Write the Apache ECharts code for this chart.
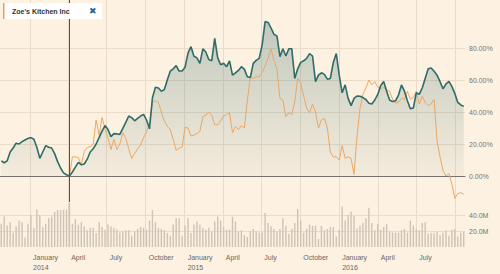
<!DOCTYPE html>
<html><head><meta charset="utf-8">
<script src="https://cdn.jsdelivr.net/npm/echarts@6/dist/echarts.min.js"></script>
<style>html,body{margin:0;padding:0;background:#fdf1e2;}#c{width:500px;height:274px;}</style>
</head><body><div id="c"></div>
<script>
// weekly observations, first one on this date
const startDate = '2013-10-25';
// teal series (% change), one value per week
const teal = [
9.5, 8.3, 9.5, 15, 17.5, 20.5, 20, 21.5, 22.5, 23.5,
24, 23, 18, 11, 15, 19, 18, 17.5, 14, 9,
5, 2, 0.8, 0, 2.5, 5.5, 8.5, 7, 7.5, 10.5,
15, 17, 20, 24, 28, 31.5, 29, 24.6, 26.5, 26.3,
26, 29.8, 33.5, 37.5, 36.5, 34.5, 36, 37.5, 38.5, 35,
29.5, 49, 55.5, 55, 53, 54, 60, 65.5, 67, 69,
65.6, 65.6, 68, 77, 80.8, 74.8, 73.8, 70.4, 79.5, 77.5,
72.8, 72.1, 86, 74, 69.5, 70.5, 68.3, 72, 63, 64.5,
66, 68.3, 66.8, 62, 61.5, 70.4, 72.3, 73.5, 82, 96.5,
96, 92.5, 88.5, 87.5, 74.6, 79.5, 75, 79.5, 79.5, 61,
67, 71, 72, 73.5, 76.5, 75, 59, 63, 64.5, 63.5,
60.5, 61, 71, 76.5, 63, 52, 57, 48.5, 44, 48.5,
50, 49.8, 49, 47.8, 45.5, 45, 47.5, 51, 56.5, 59,
53, 47.5, 46.5, 47, 50.6, 56.9, 53, 47, 42, 42.5,
52, 51, 55, 61, 67, 67.5, 65.5, 63, 59, 54.5,
57.5, 59.2, 56, 51.5, 46, 44.4, 43.5
];
// Zoe's Kitchen Inc (% change), starts at week index 23
const orangeStartIndex = 23;
const orange = [
0, 12, 12, 11.5, 7, 15.5, 17.8, 18.3, 19.8, 35,
25.5, 36.5, 29.5, 24, 16.5, 23, 16.5, 20, 27, 23.5,
17, 11, 14, 17, 19.5, 24, 27.5, 33, 46, 47,
46, 40, 34.5, 31, 29, 23, 16, 17.5, 18, 30.5,
30, 25, 25.5, 26.5, 28, 37, 38, 40, 38, 32,
32, 34.5, 37.5, 38.5, 39.5, 27, 31, 29, 31.5, 30,
47, 61.5, 61, 62, 62, 64.5, 69, 73.5, 79.5, 72,
67, 48.5, 47.5, 37, 39.5, 38.5, 46.4, 61, 58, 50,
42.5, 39.5, 45, 40, 30, 35, 36, 30, 15, 12,
12, 10, 19, 11, 12, 11, 1, 25, 42, 51,
55, 60, 57, 59, 55.5, 54.5, 55.5, 53.5, 53, 48,
45.5, 46, 48.5, 48, 53, 48, 49, 53, 45, 50,
46, 44, 45, 48, 22, 12, 3.5, 0, 1.5, -5,
-14, -11, -10.5, -11.3
];
// weekly volume, millions
const volume = [
29, 38, 27, 31, 18, 26, 33, 31, 12, 29,
40, 24, 47, 40, 25, 29, 36, 38, 44, 46,
46, 46.5, 46.5, 55, 29, 35, 28, 31, 26, 21,
24, 24, 17.5, 31, 25, 21.6, 28, 26, 24, 22,
18, 19.5, 21, 21, 14, 19.5, 22.5, 25, 24, 21.6,
33, 46, 31, 24, 22.5, 21, 17.5, 14, 28, 36,
36, 14, 26.5, 36, 17.5, 28, 32, 28, 24, 21.6,
24, 19.5, 32, 38, 33, 25, 21.6, 22, 38, 32,
19.5, 21, 15, 12.5, 19.5, 22.5, 19.5, 18, 18, 42.5,
30, 26, 22.5, 19.5, 22.5, 36, 26.5, 16.5, 22.5, 30,
47.5, 33, 18, 22.5, 28, 26.5, 26.5, 10, 26.5, 21,
22.5, 25, 25, 13, 21.6, 51, 33, 40, 44.5, 39,
23, 26.5, 30, 36, 49, 30, 21, 29, 21.6, 25,
29, 19.5, 18, 18, 18, 21, 22.5, 18, 33, 26.5,
22.5, 21, 30, 31, 16.5, 17.5, 17.5, 19.5, 15, 18,
21, 14, 21.6, 22.5, 13, 18, 19.5
];
const quarterTicks = ['2014-01-01','2014-04-01','2014-07-01','2014-10-01','2015-01-01','2015-04-01',
  '2015-07-01','2015-10-01','2016-01-01','2016-04-01','2016-07-01','2016-10-01'];
const labelTicks = quarterTicks.slice(0, 11);
const yTicks = [0, 20, 40, 60, 80];
const volTicks = [20, 40];
const markerDate = '2014-04-04';
const xMinDate = '2013-10-22';
const xMaxDate = '2016-10-24';
const monthNames = ['January','February','March','April','May','June','July','August','September','October','November','December'];

function ts(s, addDays) {
  const p = s.split('-').map(Number);
  return new Date(p[0], p[1] - 1, p[2] + (addDays || 0)).getTime();
}
const dates = teal.map((_, i) => ts(startDate, 7 * i));
const tealData = teal.map((v, i) => [dates[i], v]);
const orangeData = orange.map((v, i) => [dates[orangeStartIndex + i], v]);
const volData = volume.map((v, i) => [dates[i], v]);
const qT = quarterTicks.map(s => ts(s));
const lT = labelTicks.map(s => ts(s));

const grid = '#eadcc8';
const chart = echarts.init(document.getElementById('c'), null, {renderer: 'svg'});
chart.setOption({
  backgroundColor: '#fdf1e2',
  animation: false,
  textStyle: {fontFamily: '"Liberation Sans", Arial, sans-serif'},
  grid: [
    {left: 0, right: 35, top: 0, bottom: 72, outerBoundsMode: 'none'},
    {left: 0, right: 35, top: 199, bottom: 27, outerBoundsMode: 'none'}
  ],
  xAxis: [
    {type: 'value', gridIndex: 0, min: ts(xMinDate), max: ts(xMaxDate),
     axisLine: {show: true, onZero: true, lineStyle: {color: '#77716b', width: 1}},
     axisTick: {show: false, customValues: qT},
     axisLabel: {show: false, customValues: qT},
     splitLine: {show: true, lineStyle: {color: grid, width: 1}}},
    {type: 'value', gridIndex: 1, min: ts(xMinDate), max: ts(xMaxDate),
     axisLine: {show: false}, axisTick: {show: false, customValues: qT},
     axisLabel: {show: true, customValues: lT, align: 'left', padding: [0, 0, 0, 3],
       margin: 5, fontSize: 7, lineHeight: 10, color: '#6b655f', hideOverlap: false,
       showMinLabel: true, showMaxLabel: true,
       formatter: function (v) {
         const d = new Date(v);
         const m = monthNames[d.getMonth()];
         return d.getMonth() === 0 ? m + '\n' + d.getFullYear() : m;
       }},
     splitLine: {show: true, lineStyle: {color: grid, width: 1}}}
  ],
  yAxis: [
    {type: 'value', gridIndex: 0, position: 'right', min: -16.25, max: 110,
     axisLine: {show: false}, axisTick: {show: false, customValues: yTicks},
     axisLabel: {customValues: yTicks, margin: 4, fontSize: 7, color: '#7a746e',
       formatter: v => v.toFixed(2) + '%'},
     splitLine: {show: true, lineStyle: {color: grid, width: 1}}},
    {type: 'value', gridIndex: 1, position: 'right', min: 0, max: 60,
     axisLine: {show: false}, axisTick: {show: false, customValues: volTicks},
     axisLabel: {customValues: volTicks, margin: 4, fontSize: 7, color: '#7a746e',
       formatter: v => v.toFixed(1) + 'M'},
     splitLine: {show: true, lineStyle: {color: grid, width: 1}}}
  ],
  series: [
    {type: 'line', xAxisIndex: 0, yAxisIndex: 0, data: tealData, showSymbol: false, silent: true,
     lineStyle: {width: 0}, z: 1,
     areaStyle: {color: new echarts.graphic.LinearGradient(0, 0, 0, 1, [
       {offset: 0, color: 'rgba(47,105,100,0.42)'},
       {offset: 1, color: 'rgba(47,105,100,0.06)'}])}},
    {type: 'line', xAxisIndex: 0, yAxisIndex: 0, data: orangeData, showSymbol: false, silent: true,
     lineStyle: {width: 1, color: '#eba866'}, z: 2},
    {type: 'line', xAxisIndex: 0, yAxisIndex: 0, data: tealData, showSymbol: false, silent: true,
     lineStyle: {width: 1.6, color: '#2f6b68'}, z: 3,
     markLine: {symbol: 'none', silent: true, label: {show: false},
       lineStyle: {color: '#55514d', width: 1, type: 'solid'},
       data: [{xAxis: ts(markerDate)}]}},
    {type: 'bar', xAxisIndex: 1, yAxisIndex: 1, data: volData, barWidth: 1.4, silent: true,
     itemStyle: {color: '#cfc3b6'}}
  ],
  graphic: [
    {type: 'rect', shape: {x: 3, y: 3, width: 99, height: 16}, style: {fill: '#ffffff'}, z: 100},
    {type: 'rect', shape: {x: 3, y: 3, width: 1.5, height: 16}, style: {fill: '#e6a15c'}, z: 101},
    {type: 'text', x: 12, y: 11, z: 101, style: {text: "Zoe's Kitchen Inc",
      font: 'bold 7px "Liberation Sans", Arial, sans-serif', fill: '#333333', verticalAlign: 'middle'}},
    {type: 'text', x: 89, y: 11, z: 101, style: {text: '✖',
      font: 'bold 9px "DejaVu Sans", sans-serif', fill: '#2c6680', verticalAlign: 'middle'}}
  ]
});
</script></body></html>
